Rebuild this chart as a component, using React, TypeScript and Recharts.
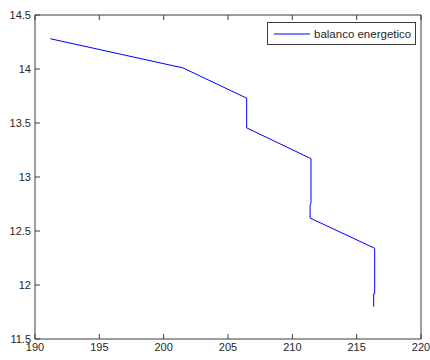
import { LineChart, Line, XAxis, YAxis, Legend } from 'recharts';

// Energy balance trace
const xValues = [191.2, 201.5, 206.45, 206.45, 211.45, 211.45, 211.38, 211.38, 216.4, 216.4, 216.32, 216.32];
const yValues = [14.28, 14.01, 13.73, 13.455, 13.17, 12.76, 12.74, 12.62, 12.34, 11.92, 11.92, 11.8];
const xTicks = [190, 195, 200, 205, 210, 215, 220];
const yTicks = [11.5, 12, 12.5, 13, 13.5, 14, 14.5];
const seriesName = 'balanco energetico';

const data = xValues.map((x, i) => ({ x, y: yValues[i] }));

const font = '"Liberation Sans", Arial, sans-serif';
const frame = '#3c3c3c';
const textColor = '#262626';

function LegendBox({ payload }: any) {
  const entry = payload?.[0];
  return (
    <div
      style={{
        boxSizing: 'border-box',
        width: 149,
        height: 23,
        border: `1px solid ${frame}`,
        background: '#fff',
        display: 'flex',
        alignItems: 'center',
        fontFamily: font,
        fontSize: 11.5,
        color: textColor,
      }}
    >
      <svg width={44} height={10} style={{ flex: 'none' }}>
        <line x1={6} y1={5} x2={42} y2={5} stroke="#0000ff" strokeWidth={1} />
      </svg>
      <span style={{ marginLeft: 2, whiteSpace: 'nowrap' }}>{entry?.value ?? seriesName}</span>
    </div>
  );
}

export default function App() {
  const tickStyle = { fontSize: 11, fill: textColor, fontFamily: font };
  return (
    <div style={{ position: 'absolute', left: 0, top: 0, width: 430, height: 360, background: '#fff' }}>
      <LineChart width={430} height={360} data={data} margin={{ top: 14, right: 8, bottom: 0, left: 0 }}>
        <XAxis
          xAxisId="bottom"
          dataKey="x"
          type="number"
          domain={[190, 220]}
          ticks={xTicks}
          orientation="bottom"
          height={21}
          tickSize={-5}
          tickMargin={9}
          tick={tickStyle}
          stroke={frame}
          allowDataOverflow
        />
        <XAxis
          xAxisId="top"
          dataKey="x"
          type="number"
          domain={[190, 220]}
          ticks={xTicks}
          orientation="top"
          height={1}
          tickSize={-5}
          tick={() => <g />}
          stroke={frame}
        />
        <YAxis
          yAxisId="left"
          type="number"
          domain={[11.5, 14.5]}
          ticks={yTicks}
          width={35}
          tickSize={-5}
          tickMargin={9}
          tick={tickStyle}
          stroke={frame}
          allowDataOverflow
        />
        <YAxis
          yAxisId="right"
          orientation="right"
          type="number"
          domain={[11.5, 14.5]}
          ticks={yTicks}
          width={1}
          tickSize={-5}
          tick={() => <g />}
          stroke={frame}
        />
        <Legend
          layout="horizontal"
          verticalAlign="middle"
          content={<LegendBox />}
          wrapperStyle={{ left: 267, top: 22, width: 149, height: 23 }}
        />
        <Line
          xAxisId="bottom"
          yAxisId="left"
          dataKey="y"
          name={seriesName}
          type="linear"
          stroke="#0000ff"
          strokeWidth={1}
          dot={false}
          isAnimationActive={false}
        />
      </LineChart>
    </div>
  );
}
